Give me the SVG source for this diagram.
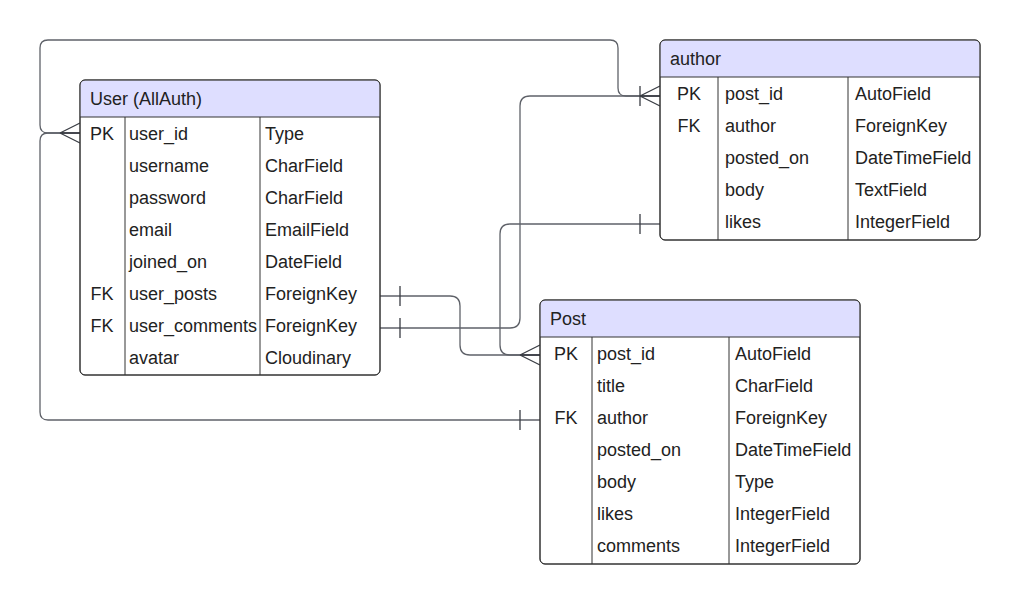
<svg xmlns="http://www.w3.org/2000/svg" width="1021" height="604" viewBox="0 0 1021 604">
<style>
.tb{fill:#fff;stroke:#333;stroke-width:1}
.hd{fill:#dedeff}
.ln{stroke:#333;stroke-width:1;fill:none}
.cn{stroke:#5f6269;stroke-width:1.3;fill:none}
.mk{stroke:#3a3d44;stroke-width:1.3;fill:none}
text{font-family:"Liberation Sans",Arial,sans-serif;font-size:18px;fill:#222}
.c{text-anchor:middle}
</style>
<rect width="1021" height="604" fill="#fff"/>
<g id="connectors">
  <path class="cn" d="M80,133 H48 Q40,133 40,125 V48 Q40,40 48,40 H610 Q618,40 618,48 V88 Q618,96 626,96 H660"/>
  <path class="cn" d="M80,133 H48 Q40,133 40,141 V412 Q40,420 48,420 H540"/>
  <path class="cn" d="M380,296 H450 Q460,296 460,306 V345 Q460,355 470,355 H540"/>
  <path class="cn" d="M380,328 H510 Q520,328 520,318 V106 Q520,96 530,96 H660"/>
  <path class="cn" d="M660,224 H510 Q500,224 500,234 V345 Q500,355 510,355 H540"/>
  <path class="mk" d="M60,133 L80,123 M60,133 L80,143 M60,133 H80"/>
  <path class="mk" d="M640,96 L660,86 M640,96 L660,106 M640,96 H660 M640,86 V106"/>
  <path class="mk" d="M520,355 L540,345 M520,355 L540,365 M520,355 H540"/>
  <path class="mk" d="M400,286 V306 M400,318 V338 M520,410 V430 M640,214 V234"/>
</g>
<g id="user">
  <rect class="tb" x="80" y="80" width="300" height="295" rx="5"/>
  <path class="hd" d="M85,80.5 H375 Q379.5,80.5 379.5,85 V117 H80.5 V85 Q80.5,80.5 85,80.5 Z"/>
  <rect class="tb" x="80" y="80" width="300" height="295" rx="5" style="fill:none"/>
  <path class="ln" d="M80,117 H380 M125,117 V375 M260,117 V375"/>
  <text x="90" y="105">User (AllAuth)</text>
  <text class="c" x="102" y="140">PK</text><text x="129" y="140">user_id</text><text x="265" y="140">Type</text>
  <text x="129" y="172">username</text><text x="265" y="172">CharField</text>
  <text x="129" y="204">password</text><text x="265" y="204">CharField</text>
  <text x="129" y="236">email</text><text x="265" y="236">EmailField</text>
  <text x="129" y="268">joined_on</text><text x="265" y="268">DateField</text>
  <text class="c" x="102" y="300">FK</text><text x="129" y="300">user_posts</text><text x="265" y="300">ForeignKey</text>
  <text class="c" x="102" y="332">FK</text><text x="129" y="332">user_comments</text><text x="265" y="332">ForeignKey</text>
  <text x="129" y="364">avatar</text><text x="265" y="364">Cloudinary</text>
</g>
<g id="author">
  <rect class="tb" x="660" y="40" width="320" height="200" rx="5"/>
  <path class="hd" d="M665,40.5 H975 Q979.5,40.5 979.5,45 V77 H660.5 V45 Q660.5,40.5 665,40.5 Z"/>
  <rect class="tb" x="660" y="40" width="320" height="200" rx="5" style="fill:none"/>
  <path class="ln" d="M660,77 H980 M718,77 V240 M848,77 V240"/>
  <text x="670" y="65">author</text>
  <text class="c" x="689" y="100">PK</text><text x="725" y="100">post_id</text><text x="855" y="100">AutoField</text>
  <text class="c" x="689" y="132">FK</text><text x="725" y="132">author</text><text x="855" y="132">ForeignKey</text>
  <text x="725" y="164">posted_on</text><text x="855" y="164">DateTimeField</text>
  <text x="725" y="196">body</text><text x="855" y="196">TextField</text>
  <text x="725" y="228">likes</text><text x="855" y="228">IntegerField</text>
</g>
<g id="post">
  <rect class="tb" x="540" y="300" width="320" height="264" rx="5"/>
  <path class="hd" d="M545,300.5 H855 Q859.5,300.5 859.5,305 V337 H540.5 V305 Q540.5,300.5 545,300.5 Z"/>
  <rect class="tb" x="540" y="300" width="320" height="264" rx="5" style="fill:none"/>
  <path class="ln" d="M540,337 H860 M592,337 V564 M729,337 V564"/>
  <text x="550" y="325">Post</text>
  <text class="c" x="566" y="360">PK</text><text x="597" y="360">post_id</text><text x="735" y="360">AutoField</text>
  <text x="597" y="392">title</text><text x="735" y="392">CharField</text>
  <text class="c" x="566" y="424">FK</text><text x="597" y="424">author</text><text x="735" y="424">ForeignKey</text>
  <text x="597" y="456">posted_on</text><text x="735" y="456">DateTimeField</text>
  <text x="597" y="488">body</text><text x="735" y="488">Type</text>
  <text x="597" y="520">likes</text><text x="735" y="520">IntegerField</text>
  <text x="597" y="552">comments</text><text x="735" y="552">IntegerField</text>
</g>
</svg>
